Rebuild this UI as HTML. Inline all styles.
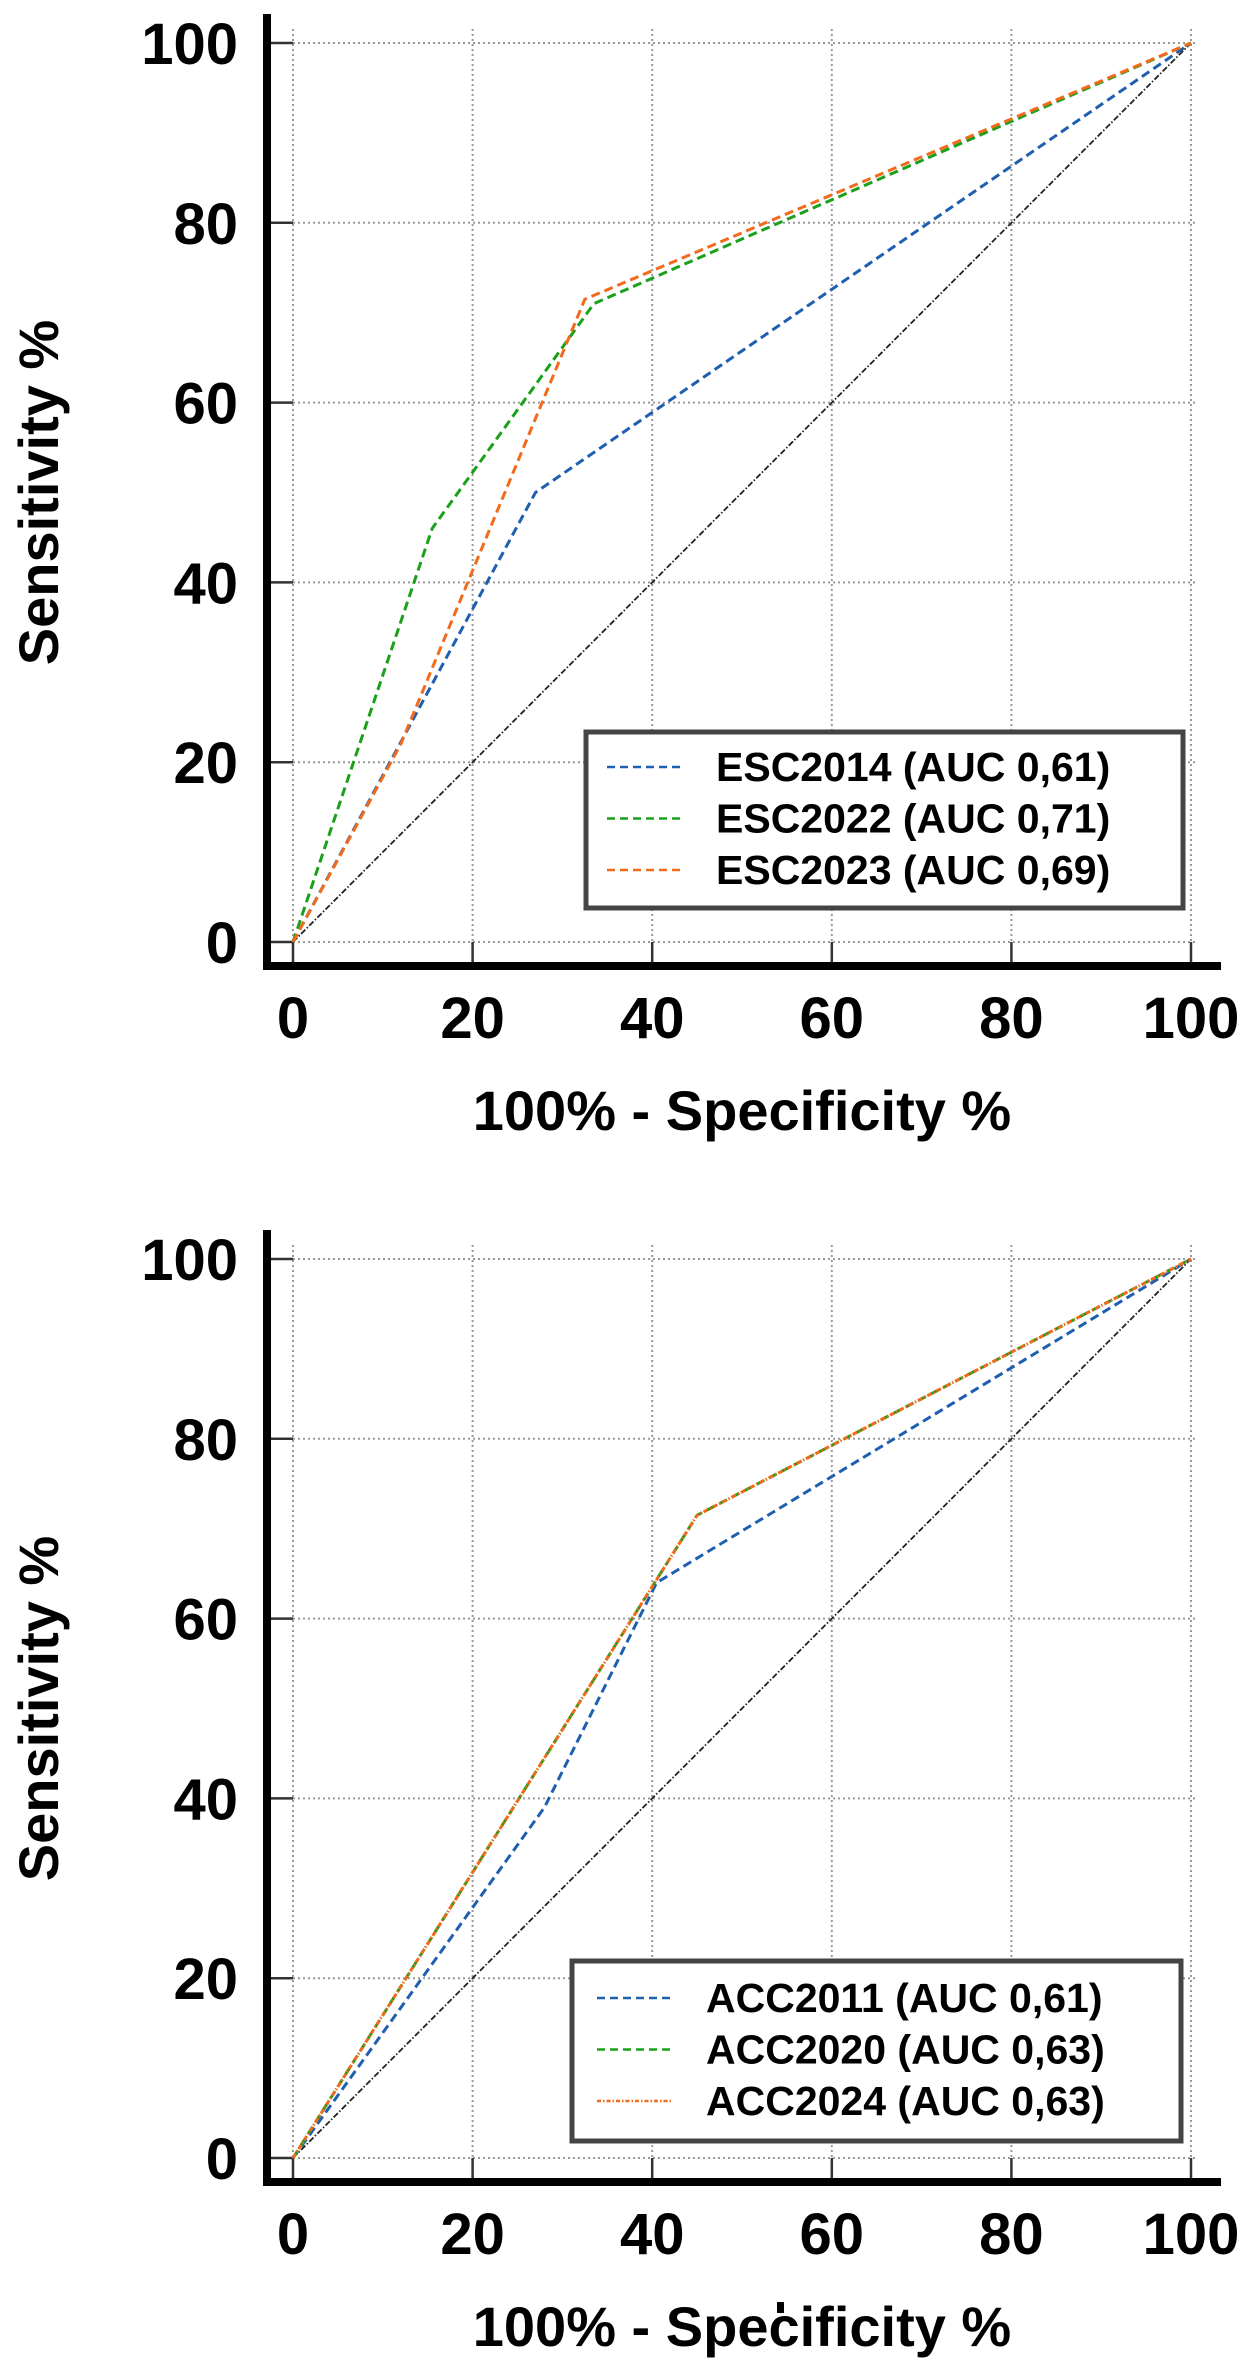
<!DOCTYPE html>
<html><head><meta charset="utf-8"><style>
html,body{margin:0;padding:0;background:#fff}
svg{display:block}
text{font-family:"Liberation Sans",Arial,sans-serif;font-weight:bold;fill:#000}
</style></head><body>
<svg id="fig" width="1250" height="2359" viewBox="0 0 1250 2359" xmlns="http://www.w3.org/2000/svg"></svg>
<script>
const ticks = [0,20,40,60,80,100];
const tickLabels = ["0","20","40","60","80","100"];
// Top chart (ESC)
const escNames = ["ESC2014 (AUC 0,61)","ESC2022 (AUC 0,71)","ESC2023 (AUC 0,69)"];
const esc2014X = [0,27,100];      const esc2014Y = [0,50,100];
const esc2022X = [0,15.5,33.5,100]; const esc2022Y = [0,46,71,100];
const esc2023X = [0,12,32.5,100];  const esc2023Y = [0,22,71.5,100];
// Bottom chart (ACC)
const accNames = ["ACC2011 (AUC 0,61)","ACC2020 (AUC 0,63)","ACC2024 (AUC 0,63)"];
const acc2011X = [0,28,40.5,100]; const acc2011Y = [0,39,64,100];
const acc2020X = [0,45,100];      const acc2020Y = [0,71.5,100];
const acc2024X = [0,45,100];      const acc2024Y = [0,71.5,100];
const refX = [0,100]; const refY = [0,100];

const NS="http://www.w3.org/2000/svg";
const svg=document.getElementById('fig');
function mk(tag,attrs,parent){const e=document.createElementNS(NS,tag);for(const k in attrs)e.setAttribute(k,attrs[k]);(parent||svg).appendChild(e);return e;}

function chart(cfg){
  const x0=293,x1=1191,y0=cfg.y0,y1=cfg.y100;
  const sx=v=>x0+(x1-x0)*v/100, sy=v=>y0-(y0-y1)*v/100;
  const g=mk('g',{});
  
  
  // grid
  ticks.forEach((t,i)=>{
    const gl=mk('line',{x1:x0,x2:x1+6,y1:sy(t),y2:sy(t),stroke:'#999','stroke-width':2,'stroke-dasharray':'2 3'},g);
    
    
    const vl=mk('line',{x1:sx(t),x2:sx(t),y1:y1-14,y2:y0,stroke:'#999','stroke-width':2,'stroke-dasharray':'2 3'},g);
    
    
    mk('line',{x1:271,x2:x0,y1:sy(t),y2:sy(t),stroke:'#333','stroke-width':2.5},g);
    mk('line',{x1:sx(t),x2:sx(t),y1:y0,y2:y0+22,stroke:'#333','stroke-width':2.5},g);
    const yl=mk('text',{x:238,y:sy(t)+21,'text-anchor':'end','font-size':58},g);
    yl.textContent=tickLabels[i];
    
    
    const xl=mk('text',{x:sx(t),y:y0+96,'text-anchor':'middle','font-size':58},g);
    xl.textContent=tickLabels[i];
    
    
  });
  // axes
  const ya=mk('rect',{x:263,y:y1-29,width:8,height:(y0+27)-(y1-29),fill:'#000'},g);
  
  
  const xa=mk('rect',{x:263,y:y0+20,width:958,height:8,fill:'#000'},g);
  
  
  // reference diagonal
  const rp=mk('polyline',{points:refX.map((v,i)=>sx(v)+','+sy(refY[i])).join(' '),fill:'none',stroke:'#222','stroke-width':1.8,'stroke-dasharray':'6 2 1.5 2'},g);
  
  
  // series
  cfg.series.forEach(s=>{
    const p=mk('polyline',{points:s.x.map((v,i)=>sx(v)+','+sy(s.y[i])).join(' '),fill:'none',stroke:s.color,'stroke-width':3,'stroke-dasharray':s.dash},g);
    
    
  });
  // titles
  const xt=mk('text',{x:742,y:y0+188,'text-anchor':'middle','font-size':56},g);
  xt.textContent=cfg.xtitle;
  
  
  const cy=(y0+y1)/2;
  const yt=mk('text',{x:58,y:cy,'text-anchor':'middle','font-size':56,transform:'rotate(-90 58 '+cy+')'},g);
  yt.textContent='Sensitivity %';
  
  
  // legend
  const L=cfg.legend;
  const lb=mk('rect',{x:L.x+2,y:L.y+2,width:L.w-4,height:L.h-4,fill:'#fff',stroke:'#444','stroke-width':5},g);
  
  
  cfg.series.forEach((s,i)=>{
    const by=L.row0+i*51.5;
    const ll=mk('line',{x1:L.lx1,x2:L.lx2,y1:by-14,y2:by-14,stroke:s.color,'stroke-width':2.5,'stroke-dasharray':s.ldash},g);
    
    
    const lt=mk('text',{x:L.tx,y:by,'font-size':41},g);
    lt.textContent=cfg.names[i];
    
    
  });
}

chart({name:'esc-roc-chart',y0:942,y100:43,xtitle:'100% - Specificity %',names:escNames,
  legend:{x:584,y:730,w:601,h:180,row0:781,lx1:607,lx2:682,tx:716},
  series:[
    {id:'esc2014-curve',x:esc2014X,y:esc2014Y,color:'#1f5fb0',dash:'9 5',ldash:'8 5'},
    {id:'esc2022-curve',x:esc2022X,y:esc2022Y,color:'#1aa01a',dash:'9 5',ldash:'8 5'},
    {id:'esc2023-curve',x:esc2023X,y:esc2023Y,color:'#f26a1b',dash:'9 5',ldash:'8 5'}]});

chart({name:'acc-roc-chart',y0:2158,y100:1259,xtitle:'100% - Specificity %',names:accNames,
  legend:{x:570,y:1959,w:613,h:184,row0:2012,lx1:597,lx2:672,tx:706},
  series:[
    {id:'acc2011-curve',x:acc2011X,y:acc2011Y,color:'#1f5fb0',dash:'9 5',ldash:'8 5'},
    {id:'acc2020-curve',x:acc2020X,y:acc2020Y,color:'#1aa01a',dash:'9 5',ldash:'8 5'},
    {id:'acc2024-curve',x:acc2024X,y:acc2024Y,color:'#f26a1b',dash:'5 2 1.5 2',ldash:'4 2 1.5 2'}]});

const mark=mk('rect',{x:777,y:2302,width:7,height:11,fill:'#000'});


</script>
</body></html>
